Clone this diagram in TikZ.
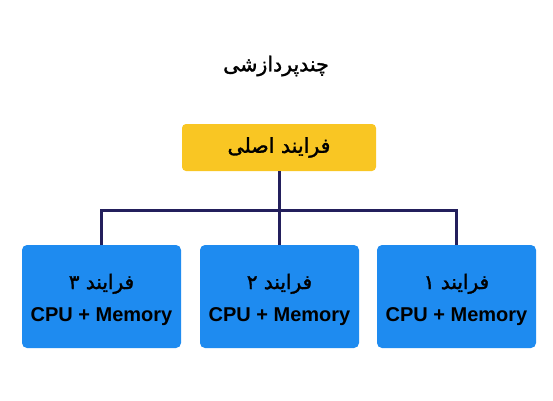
\documentclass[tikz,border=0pt]{standalone}
\usepackage{fontspec}
\setmainfont{Liberation Sans}
\newfontfamily\arabicfont[Script=Arabic, FakeBold=1.6]{DejaVu Sans}
\TeXXeTstate=1
\definecolor{mainyellow}{HTML}{F9C623}
\definecolor{procblue}{HTML}{1E8BF0}
\definecolor{linknavy}{HTML}{231F5C}
\tikzset{
	mainbox/.style={fill=mainyellow, rounded corners=4pt, minimum width=194pt, minimum height=47pt, inner sep=0pt},
	procbox/.style={fill=procblue, rounded corners=5pt, minimum width=159pt, minimum height=103pt, align=center, inner sep=0pt},
	link/.style={draw=linknavy, line width=3pt}
}

\begin{document}
\begin{tikzpicture}[x=1pt, y=-1pt]
		\def\boxy{296.5}
		\def\busy{210}
		\useasboundingbox (0,0) rectangle (553,400);
		\node[] (title) at (276,66) {\fontsize{20.5}{24}\selectfont\arabicfont\beginR چندپردازشی\endR};
		\node[mainbox] (main) at (279,147.5) {\fontsize{20.5}{24}\selectfont\arabicfont\beginR فرایند اصلی\endR};
		\coordinate (bus) at (0,\busy);
		\foreach \n/\d/\x in {1/۱/456.5, 2/۲/279.5, 3/۳/101.5}
		{
			\node[procbox] (p\n) at (\x, \boxy)
			{\rule{0pt}{22pt}\fontsize{20}{22}\selectfont\arabicfont\beginR فرایند \d\endR\\[13pt]
			\fontsize{20}{23}\selectfont\bfseries CPU + Memory};
			\draw[link] (main.south) -- (main.south |- bus) -| (p\n.north);
		}
	\end{tikzpicture}
\end{document}
